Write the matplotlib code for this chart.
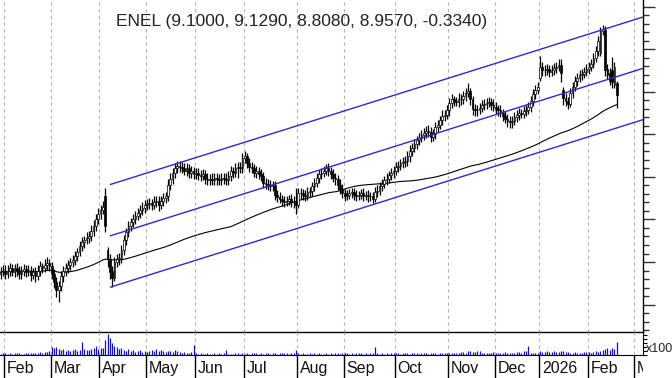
import numpy as np
import pandas as pd
import matplotlib
matplotlib.use("Agg")
import matplotlib.pyplot as plt

plt.rcParams['font.family'] = ['Liberation Sans', 'DejaVu Sans']

# ---------------- data ----------------
title = "ENEL (9.1000, 9.1290, 8.8080, 8.9570, -0.3340)"
holidays = ['2025-04-18', '2025-04-21', '2025-05-01', '2025-08-15', '2025-12-24',
            '2025-12-25', '2025-12-26', '2025-12-31', '2026-01-01']
first_day = '2025-01-30'
last_cal_day = '2026-03-31'
month_labels = ['Feb', 'Mar', 'Apr', 'May', 'Jun', 'Jul', 'Aug', 'Sep', 'Oct',
                'Nov', 'Dec', '2026', 'Feb', 'Mar']

close = [
    6.88, 6.90,
    6.86, 6.90, 6.93, 6.88, 6.93, 6.90, 6.86, 6.89, 6.92, 6.88,
    6.90, 6.85, 6.88, 6.83, 6.90, 6.95, 6.93, 6.97, 6.99, 6.95,
    6.86, 6.76, 6.67, 6.72, 6.83, 6.90, 6.93, 6.96, 7.00, 7.02,
    7.07, 7.12, 7.19, 7.23, 7.26, 7.28, 7.30, 7.37, 7.42, 7.51,
    7.56, 7.61, 7.65, 7.42, 7.04, 6.88, 6.81, 7.00, 7.04, 7.04,
    7.14, 7.26, 7.35, 7.42, 7.47, 7.51, 7.54, 7.58, 7.61, 7.64,
    7.67, 7.68, 7.69, 7.67, 7.71, 7.72, 7.67, 7.72, 7.75, 7.77,
    7.91, 7.98, 8.05, 8.10, 8.13, 8.12, 8.10, 8.07, 8.10, 8.05,
    8.07, 8.03, 8.05, 8.02, 8.01, 8.03, 7.98, 7.96, 7.98, 7.96,
    7.99, 7.97, 7.96, 7.99, 7.98, 7.96, 8.01, 8.07, 8.05, 8.10,
    8.12, 8.10, 8.22, 8.24, 8.16, 8.12, 8.10, 8.05, 8.07, 8.03,
    8.01, 7.93, 7.92, 7.90, 7.89, 7.90, 7.79, 7.76, 7.74, 7.72,
    7.71, 7.72, 7.74, 7.71, 7.70, 7.67, 7.81, 7.81, 7.79, 7.78,
    7.82, 7.83, 7.89, 7.93, 7.99, 8.03, 8.05, 8.07, 8.10, 8.07,
    8.03, 7.99, 7.97, 7.91, 7.86, 7.81, 7.78, 7.79, 7.81, 7.82,
    7.79, 7.78, 7.79, 7.81, 7.78, 7.79, 7.77, 7.77, 7.74, 7.82,
    7.84, 7.89, 7.92, 7.96, 7.98, 8.02, 8.05, 8.07, 8.12, 8.13,
    8.16, 8.17, 8.19, 8.24, 8.31, 8.34, 8.39, 8.43, 8.46, 8.49,
    8.52, 8.54, 8.53, 8.47, 8.50, 8.59, 8.61, 8.67, 8.72, 8.73,
    8.78, 8.87, 8.91, 8.89, 8.88, 8.92, 8.91, 8.95, 8.99, 9.01,
    8.91, 8.80, 8.78, 8.79, 8.81, 8.85, 8.86, 8.87, 8.88, 8.85,
    8.82, 8.80, 8.78, 8.75, 8.72, 8.68, 8.66, 8.64, 8.66, 8.70,
    8.73, 8.75, 8.74, 8.77, 8.79, 8.82, 8.89, 8.97, 9.02, 9.06,
    9.29, 9.25, 9.25, 9.27, 9.23, 9.26, 9.28, 9.29, 9.32, 9.22,
    8.93, 8.89, 8.86, 8.99, 9.06, 9.13, 9.16, 9.20, 9.21, 9.23,
    9.27, 9.29, 9.33, 9.40, 9.48, 9.60, 9.71, 9.74, 9.25, 9.20,
    9.13, 9.11, 9.29, 8.957,
]

open_ = [
    6.86, 6.88,
    6.90, 6.86, 6.90, 6.93, 6.88, 6.93, 6.90, 6.86, 6.89, 6.92,
    6.88, 6.90, 6.85, 6.88, 6.83, 6.90, 6.95, 6.93, 6.97, 6.99,
    6.95, 6.86, 6.76, 6.67, 6.72, 6.83, 6.90, 6.93, 6.96, 7.00,
    7.02, 7.07, 7.12, 7.19, 7.23, 7.26, 7.28, 7.30, 7.37, 7.42,
    7.51, 7.56, 7.61, 7.78, 7.14, 7.04, 6.90, 6.81, 7.00, 7.04,
    7.04, 7.14, 7.26, 7.35, 7.42, 7.47, 7.51, 7.54, 7.58, 7.61,
    7.64, 7.67, 7.68, 7.69, 7.67, 7.71, 7.72, 7.67, 7.72, 7.75,
    7.77, 7.91, 7.98, 8.05, 8.10, 8.13, 8.12, 8.10, 8.07, 8.10,
    8.05, 8.07, 8.03, 8.05, 8.02, 8.01, 8.03, 7.98, 7.96, 7.98,
    7.96, 7.99, 7.97, 7.96, 7.99, 7.98, 7.96, 8.01, 8.07, 8.05,
    8.10, 8.12, 8.10, 8.22, 8.24, 8.16, 8.12, 8.10, 8.05, 8.07,
    8.03, 8.01, 7.93, 7.92, 7.90, 7.89, 7.90, 7.79, 7.76, 7.74,
    7.72, 7.71, 7.72, 7.74, 7.71, 7.70, 7.67, 7.81, 7.81, 7.79,
    7.78, 7.82, 7.83, 7.89, 7.93, 7.99, 8.03, 8.05, 8.07, 8.10,
    8.07, 8.03, 7.99, 7.97, 7.91, 7.86, 7.81, 7.78, 7.79, 7.81,
    7.82, 7.79, 7.78, 7.79, 7.81, 7.78, 7.79, 7.77, 7.77, 7.74,
    7.82, 7.84, 7.89, 7.92, 7.96, 7.98, 8.02, 8.05, 8.07, 8.12,
    8.13, 8.16, 8.17, 8.19, 8.24, 8.31, 8.34, 8.39, 8.43, 8.46,
    8.49, 8.52, 8.54, 8.53, 8.47, 8.50, 8.59, 8.61, 8.67, 8.72,
    8.73, 8.78, 8.87, 8.91, 8.89, 8.88, 8.92, 8.91, 8.95, 8.99,
    9.01, 8.91, 8.80, 8.78, 8.79, 8.81, 8.85, 8.86, 8.87, 8.88,
    8.85, 8.82, 8.80, 8.78, 8.75, 8.72, 8.68, 8.66, 8.64, 8.66,
    8.70, 8.73, 8.75, 8.74, 8.77, 8.79, 8.82, 8.89, 8.97, 9.02,
    9.16, 9.29, 9.25, 9.25, 9.27, 9.23, 9.26, 9.28, 9.29, 9.32,
    9.02, 8.93, 8.89, 8.86, 8.99, 9.06, 9.13, 9.16, 9.20, 9.21,
    9.23, 9.27, 9.29, 9.33, 9.40, 9.48, 9.46, 9.71, 9.72, 9.27,
    9.22, 9.25, 9.08, 9.10,
]

high = [
    6.94, 6.96,
    6.96, 6.96, 6.99, 6.98, 6.98, 6.99, 6.95, 6.95, 6.98, 6.96,
    6.96, 6.95, 6.93, 6.94, 6.96, 7.01, 6.99, 7.03, 7.06, 7.04,
    7.00, 6.92, 6.82, 6.78, 6.89, 6.95, 6.99, 7.02, 7.05, 7.08,
    7.13, 7.17, 7.25, 7.29, 7.31, 7.35, 7.37, 7.43, 7.49, 7.57,
    7.63, 7.67, 7.72, 7.87, 7.18, 7.09, 6.95, 7.06, 7.10, 7.11,
    7.20, 7.32, 7.40, 7.48, 7.52, 7.57, 7.60, 7.63, 7.67, 7.70,
    7.73, 7.74, 7.75, 7.74, 7.77, 7.78, 7.77, 7.78, 7.81, 7.82,
    7.97, 8.04, 8.11, 8.16, 8.19, 8.19, 8.17, 8.16, 8.16, 8.15,
    8.13, 8.12, 8.11, 8.10, 8.08, 8.09, 8.08, 8.04, 8.03, 8.04,
    8.05, 8.04, 8.03, 8.05, 8.04, 8.04, 8.07, 8.13, 8.12, 8.16,
    8.18, 8.17, 8.28, 8.31, 8.28, 8.22, 8.18, 8.15, 8.13, 8.12,
    8.09, 8.06, 7.99, 7.97, 7.96, 7.95, 7.95, 7.85, 7.82, 7.79,
    7.78, 7.77, 7.79, 7.80, 7.77, 7.87, 7.87, 7.87, 7.86, 7.85,
    7.88, 7.88, 7.94, 7.99, 8.05, 8.08, 8.11, 8.13, 8.15, 8.16,
    8.12, 8.09, 8.05, 8.02, 7.97, 7.92, 7.86, 7.85, 7.86, 7.87,
    7.87, 7.85, 7.84, 7.86, 7.87, 7.84, 7.85, 7.82, 7.82, 7.88,
    7.90, 7.94, 7.98, 8.01, 8.04, 8.07, 8.10, 8.13, 8.17, 8.19,
    8.21, 8.23, 8.25, 8.30, 8.37, 8.40, 8.44, 8.48, 8.52, 8.55,
    8.58, 8.60, 8.61, 8.59, 8.56, 8.65, 8.67, 8.72, 8.78, 8.79,
    8.84, 8.93, 8.97, 8.95, 8.94, 8.98, 8.97, 9.01, 9.04, 9.10,
    9.05, 8.95, 8.86, 8.85, 8.87, 8.90, 8.92, 8.93, 8.94, 8.93,
    8.91, 8.88, 8.85, 8.84, 8.80, 8.77, 8.74, 8.72, 8.71, 8.76,
    8.79, 8.81, 8.80, 8.83, 8.85, 8.88, 8.95, 9.03, 9.08, 9.12,
    9.42, 9.35, 9.32, 9.33, 9.32, 9.32, 9.34, 9.35, 9.38, 9.39,
    9.06, 8.99, 8.94, 9.05, 9.12, 9.19, 9.22, 9.25, 9.27, 9.29,
    9.33, 9.35, 9.39, 9.46, 9.54, 9.66, 9.76, 9.79, 9.77, 9.33,
    9.28, 9.41, 9.35, 9.129,
]

low = [
    6.80, 6.83,
    6.80, 6.81, 6.84, 6.83, 6.82, 6.84, 6.80, 6.80, 6.83, 6.82,
    6.83, 6.78, 6.80, 6.76, 6.79, 6.84, 6.87, 6.88, 6.91, 6.90,
    6.80, 6.70, 6.59, 6.53, 6.66, 6.77, 6.84, 6.87, 6.91, 6.94,
    6.96, 7.01, 7.07, 7.13, 7.17, 7.21, 7.22, 7.25, 7.31, 7.37,
    7.45, 7.50, 7.56, 7.35, 6.94, 6.80, 6.71, 6.78, 6.94, 6.97,
    6.99, 7.08, 7.20, 7.29, 7.37, 7.41, 7.45, 7.49, 7.52, 7.55,
    7.58, 7.61, 7.62, 7.61, 7.62, 7.65, 7.60, 7.62, 7.66, 7.69,
    7.72, 7.85, 7.92, 7.99, 8.04, 8.06, 8.04, 8.02, 8.01, 7.99,
    7.99, 7.97, 7.98, 7.96, 7.95, 7.96, 7.92, 7.90, 7.91, 7.90,
    7.91, 7.91, 7.90, 7.91, 7.92, 7.90, 7.91, 7.95, 7.99, 8.00,
    7.99, 8.04, 8.05, 8.16, 8.10, 8.06, 8.04, 8.00, 7.99, 7.97,
    7.95, 7.87, 7.86, 7.85, 7.83, 7.84, 7.73, 7.70, 7.69, 7.66,
    7.65, 7.66, 7.67, 7.65, 7.64, 7.57, 7.63, 7.74, 7.73, 7.72,
    7.73, 7.76, 7.78, 7.83, 7.88, 7.93, 7.97, 8.00, 8.02, 8.01,
    7.97, 7.94, 7.91, 7.85, 7.80, 7.75, 7.72, 7.73, 7.74, 7.75,
    7.73, 7.72, 7.73, 7.74, 7.72, 7.73, 7.71, 7.72, 7.69, 7.70,
    7.76, 7.79, 7.83, 7.87, 7.90, 7.93, 7.96, 7.99, 8.02, 8.06,
    8.08, 8.10, 8.12, 8.13, 8.18, 8.25, 8.29, 8.33, 8.37, 8.41,
    8.43, 8.46, 8.47, 8.41, 8.42, 8.45, 8.53, 8.56, 8.61, 8.66,
    8.68, 8.72, 8.81, 8.83, 8.83, 8.82, 8.85, 8.86, 8.89, 8.94,
    8.85, 8.73, 8.71, 8.72, 8.74, 8.76, 8.79, 8.80, 8.82, 8.79,
    8.77, 8.74, 8.72, 8.70, 8.66, 8.63, 8.59, 8.58, 8.58, 8.61,
    8.64, 8.67, 8.69, 8.69, 8.71, 8.74, 8.76, 8.83, 8.91, 8.97,
    9.13, 9.19, 9.18, 9.20, 9.17, 9.18, 9.20, 9.22, 9.24, 9.12,
    8.85, 8.83, 8.80, 8.82, 8.93, 9.01, 9.07, 9.11, 9.14, 9.16,
    9.18, 9.21, 9.24, 9.28, 9.35, 9.42, 9.42, 9.67, 9.19, 9.15,
    9.08, 9.04, 9.05, 8.808,
]

volume = [  # millions of shares
    18, 22, 20, 15, 25, 18, 22, 20, 25, 18, 15, 22, 20, 25, 28, 22, 30, 35, 25, 40, 38, 45,
    95, 85, 100, 75, 60, 70, 55, 65, 50, 60, 70, 55, 60, 165, 70, 60, 65, 75, 90, 110, 80,
    90, 85, 190, 265, 210, 150, 110, 100, 75, 88, 62, 50, 75, 50, 62, 38, 50, 62, 40, 50,
    40, 50, 62, 55, 70, 45, 60, 50, 40, 55, 45, 38, 60, 45, 35, 30, 40, 25, 30, 35, 125,
    20, 15, 25, 12, 18, 22, 15, 10, 20, 18, 25, 15, 20, 60, 18, 12, 15, 20, 25, 18, 22, 15,
    20, 12, 25, 30, 20, 15, 22, 18, 25, 20, 15, 28, 22, 18, 20, 25, 30, 22, 18, 25, 30, 60,
    25, 15, 20, 18, 12, 20, 15, 22, 18, 25, 15, 12, 20, 18, 22, 15, 20, 25, 18, 30,
    25, 20, 18, 22, 15, 28, 20, 25, 18, 22, 15, 20, 25, 100, 22, 18, 20, 15, 25, 18, 22, 28,
    20, 25, 18, 22, 30, 20, 18, 25, 22, 20, 15, 25, 28, 20, 18, 30, 25, 20, 18, 22, 25, 20, 30,
    25, 20, 30, 22, 28, 35, 40, 30, 45, 50, 35, 40, 55, 45, 30, 25, 20, 25, 30, 35,
    30, 25, 20, 28, 35, 22, 30, 25, 20, 35, 40, 30, 45, 50, 110, 30, 25, 20, 28,
    45, 40, 35, 50, 42, 38, 45, 40, 35, 48, 50, 40, 35, 30, 28, 35, 30, 25, 30, 35, 40,
    35, 30, 40, 45, 40, 55, 62, 80, 88, 60, 85, 70, 160,
]

ma_window = 100
channel_start = '2025-04-07'
channel_mid_start = 7.306
channel_mid_end = 9.275      # value at the right edge of the plot
channel_half_width = 0.603

# ---------------- layout ----------------
W, H = 672, 378
fig = plt.figure(figsize=(W / 100, H / 100), dpi=100)
right_px = 643
ax = fig.add_axes([0, 1 - 332 / H, right_px / W, 332 / H])
axv = fig.add_axes([0, 1 - 355 / H, right_px / W, 23 / H])
axl = fig.add_axes([0, 0, right_px / W, 23 / H])

cal = pd.bdate_range(first_day, last_cal_day)
cal = cal[~cal.isin(pd.to_datetime(holidays))]
pos_all = np.arange(len(cal)) - 2
n = len(close)
x = pos_all[:n]
O = np.array(open_); C = np.array(close); Hh = np.array(high); L = np.array(low)
V = np.array(volume)

xmin, xmax = -2.24, 274.3
for a in (ax, axv, axl):
    a.set_xlim(xmin, xmax)

# month separators
per = cal.to_period('M')
chg = np.where(per[1:] != per[:-1])[0] + 1
seps = pos_all[chg] - 0.5

# ---------------- price panel ----------------
grid_kw = dict(color='#b4b4b4', lw=0.8, linestyle=(0, (3, 3)), zorder=0)
for s in seps:
    ax.axvline(s, **grid_kw)
    axv.axvline(s, **grid_kw)

ax.vlines(x, L, Hh, color='black', lw=0.9, zorder=2)
up = C >= O
bottom = np.minimum(O, C)
height = np.maximum(np.abs(C - O), 0.006)
ax.bar(x, height, bottom=bottom, width=0.75,
       color=np.where(up, 'white', 'black'), edgecolor='black', linewidth=0.5, zorder=3)

ma = pd.Series(C).rolling(ma_window, min_periods=1).mean()
ax.plot(x, ma, color='black', lw=0.8, zorder=2)

cs = pos_all[list(cal).index(pd.Timestamp(channel_start))]
cx = np.array([cs, xmax])
cm = np.array([channel_mid_start, channel_mid_end])
for off in (-channel_half_width, 0, channel_half_width):
    ax.plot(cx, cm + off, color='#2a2ad0', lw=1.0, zorder=4, solid_capstyle='butt')

ax.set_ylim(6.178, 10.078)
ax.yaxis.tick_right()
ax.set_yticks(np.arange(6.5, 10.01, 0.5))
ax.set_yticks(np.arange(6.2, 10.05, 0.1), minor=True)
ax.tick_params(axis='y', which='major', length=8.6, width=1.0, color='#333333', labelright=False)
ax.tick_params(axis='y', which='minor', length=4.3, width=1.0, color='#333333')
ax.set_xticks([])
for sp in ('top', 'left'):
    ax.spines[sp].set_visible(False)
ax.spines['right'].set_linewidth(1.0)
ax.spines['bottom'].set_linewidth(1.0)
ax.patch.set_alpha(0)

fig.text(116 / W, 1 - 26 / H, title, ha='left', va='baseline', fontsize=12.5, color='#222222')

# ---------------- volume panel ----------------
axv.vlines(x, 0, V, color='#1010c8', lw=0.9)
axv.set_ylim(0, 290)
axv.set_xticks([])
axv.yaxis.tick_right()
axv.set_yticks([])
axv.set_yticks(np.arange(0, 291, 50), minor=True)
axv.tick_params(axis='y', which='minor', length=3, width=0.8)
axv.spines['left'].set_visible(False)
axv.spines['top'].set_visible(False)
axv.patch.set_alpha(0)
fig.text(646 / W, 1 - 352 / H, 'x1000000', ha='left', va='baseline', fontsize=9, color='#222222')

# ---------------- month label strip ----------------
axl.set_ylim(0, 1)
axl.set_xticks([]); axl.set_yticks([])
for sp in axl.spines.values():
    sp.set_visible(False)
axl.patch.set_alpha(0)
axl.vlines(seps, 0, 1, color='black', lw=1.0)
for s, lbl in zip(seps, month_labels):
    axl.text(s + 1.3, 5 / 23, lbl, ha='left', va='baseline', fontsize=11.5,
             color='#111111', clip_on=True)

fig.savefig('out.png', dpi=100)
print(len(close), len(open_), len(high), len(low), len(volume))
